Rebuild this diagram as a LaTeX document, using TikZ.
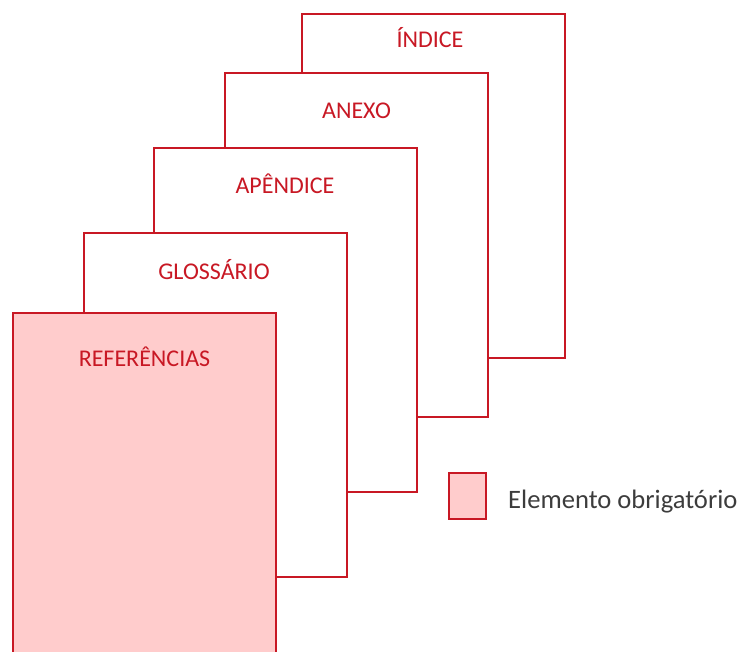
\documentclass[tikz,border=0pt]{standalone}
\usepackage{fontspec}
\setmainfont{Carlito}
\usetikzlibrary{positioning}
\definecolor{folharubra}{RGB}{200,24,36}
\definecolor{folharosa}{RGB}{255,204,204}
\definecolor{textocinza}{RGB}{60,60,60}
\tikzset{
  folha/.style={draw=folharubra, line width=2pt, fill=white, rectangle, anchor=north west,
    minimum width=263pt, minimum height=344pt, inner sep=0pt},
  obrig/.style={fill=folharosa},
  rotulo/.style={text=folharubra, font=\fontsize{24}{28}\selectfont, inner sep=0pt, anchor=base}
}
\begin{document}
\begin{tikzpicture}[x=1pt,y=-1pt]
            \useasboundingbox (0,0) rectangle (743,652);
            \clip (0,0) rectangle (743,652);
            % folhas, da mais ao fundo para a frente
            \node[folha] (indice) at (301,13) {};
            \node[rotulo] (indiceT) at (430,48) {ÍNDICE};
            \node[folha] (anexo) at (224,72) {};
            \node[rotulo] (anexoT) at (356.5,119) {ANEXO};
            \node[folha] (apendice) at (153,147) {};
            \node[rotulo] (apendiceT) at (285,194) {APÊNDICE};
            \node[folha] (glossario) at (83,232) {};
            \node[rotulo] (glossarioT) at (214,279) {GLOSSÁRIO};
            \node[folha, obrig] (referencias) at (12,312) {};
            \node[rotulo] (referenciasT) at (144.5,366) {REFERÊNCIAS};
            % legenda
            \node[draw=folharubra, line width=2pt, obrig, minimum width=37pt, minimum height=46pt, inner sep=0pt] (legenda) at (467.5,496) {};
            \node[anchor=base west, text=textocinza, font=\fontsize{26.6}{31}\selectfont, inner sep=0pt] (legendaT) at (508,508) {Elemento obrigatório};
        \end{tikzpicture}
\end{document}
